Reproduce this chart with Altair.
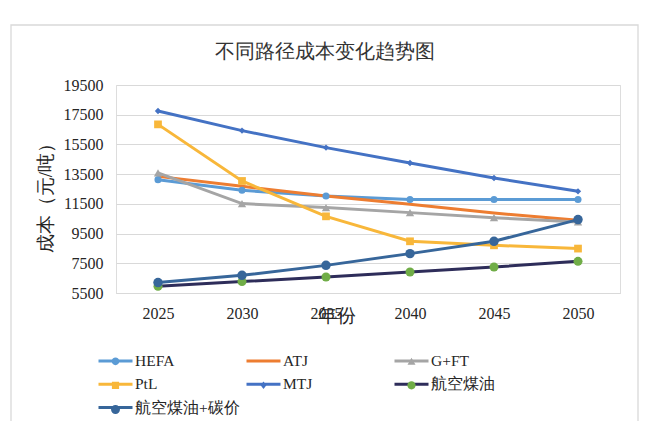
import altair as alt
import pandas as pd

years = [2025, 2030, 2035, 2040, 2045, 2050]
series = ["HEFA", "ATJ", "G+FT", "PtL", "MTJ", "航空煤油", "航空煤油+碳价"]
hefa = [13130, 12410, 12030, 11790, 11790, 11790]
atj = [13350, 12680, 12030, 11470, 10880, 10390]
gft = [13580, 11520, 11250, 10910, 10570, 10280]
ptl = [16850, 13040, 10660, 8980, 8710, 8490]
mtj = [17750, 16430, 15285, 14250, 13240, 12345]
jet = [5950, 6270, 6580, 6910, 7250, 7630]
jet_carbon = [6200, 6690, 7360, 8150, 8980, 10440]
y_ticks = [5500, 7500, 9500, 11500, 13500, 15500, 17500, 19500]

line_colors = ["#5B9BD5", "#ED7D31", "#A5A5A5", "#F8B73A", "#4472C4", "#2E2D5A", "#37669A"]
marker_colors = ["#5B9BD5", "#ED7D31", "#A5A5A5", "#F8B73A", "#4472C4", "#70AD47", "#37669A"]
marker_shapes = ["circle", "circle", "triangle-up", "square", "diamond", "circle", "circle"]
marker_sizes = [50, 0, 70, 60, 40, 81, 90]

values = [hefa, atj, gft, ptl, mtj, jet, jet_carbon]
rows = []
for i, (s, vals) in enumerate(zip(series, values)):
    for yr, v in zip(years, vals):
        rows.append({"series": s, "year": yr, "value": v,
                     "mshape": marker_shapes[i], "mcolor": marker_colors[i],
                     "msize": marker_sizes[i]})
df = pd.DataFrame(rows)

# legend symbol paths (units of sqrt(symbolSize)/2 px)
legend_line = "M-2.125,0L2.125,0"
def circ(r):
    return f"M{-r},0A{r},{r},0,1,0,{r},0A{r},{r},0,1,0,{-r},0Z"
legend_markers = [legend_line + m for m in [
    circ(0.47),
    "",
    "M0,-0.5L0.5,0.4L-0.5,0.4Z",
    "M-0.45,-0.45L0.45,-0.45L0.45,0.45L-0.45,0.45Z",
    "M0,-0.46L0.36,0L0,0.46L-0.36,0Z",
    circ(0.52),
    circ(0.56),
]]

SERIF = "Liberation Serif"
TXT = "#262626"
GRID = "#D9D9D9"

x_enc = alt.X(
    "year:O",
    scale=alt.Scale(type="point", padding=0.5),
    axis=alt.Axis(
        labelAngle=0, labelFont=SERIF, labelFontSize=16, labelColor=TXT,
        labelPadding=12, ticks=False, domainColor=GRID, domainWidth=1,
        title="年份", titleFont=SERIF, titleFontSize=19, titleFontWeight="normal",
        titleColor=TXT, titleX=220, titleY=22, titleBaseline="middle", titleAlign="center",
    ),
)
y_enc = alt.Y(
    "value:Q",
    scale=alt.Scale(domain=[5500, 19500], nice=False, zero=False),
    axis=alt.Axis(
        values=y_ticks, format="d", labelFont=SERIF, labelFontSize=16, labelColor=TXT,
        labelPadding=13, ticks=False, domain=False, gridColor=GRID, gridWidth=1,
        title="成本（元/吨）", titleFont=SERIF, titleFontSize=19, titleFontWeight="normal",
        titleColor=TXT, titleX=-71, titleY=108, titleAngle=270,
        titleBaseline="middle", titleAlign="center",
    ),
)

frame = alt.Chart(alt.Data(values=[{}])).mark_rect(
    fill="white", fillOpacity=0, stroke=GRID, strokeWidth=1.3
).encode(
    x=alt.value(-105), x2=alt.value(522), y=alt.value(-60), y2=alt.value(400)
)

common_leg = dict(
    orient="none", legendX=-10, legendY=266.5, columns=3, direction="horizontal",
    gridAlign="all", columnPadding=0, symbolSize=256,
    symbolStrokeWidth=3, labelOffset=10, labelFont=SERIF, labelFontSize=15.5,
    title=None, padding=0, symbolOpacity=1,
)
leg_lines = alt.Legend(symbolType=legend_line, labelColor=TXT, rowPadding=5.3, **common_leg)
leg_marks = alt.Legend(labelColor=TXT, labelOpacity=0, symbolStrokeColor="transparent",
                       rowPadding=3.3, **common_leg)

lines = alt.Chart(df).mark_line(strokeWidth=3).encode(
    x=x_enc, y=y_enc,
    color=alt.Color("series:N", scale=alt.Scale(domain=series, range=line_colors), legend=leg_lines),
)

points = alt.Chart(df).mark_point(filled=True, opacity=1, strokeWidth=0).encode(
    x=x_enc, y=y_enc,
    shape=alt.Shape("mshape:N", scale=None),
    fill=alt.Fill("mcolor:N", scale=None),
    size=alt.Size("msize:Q", scale=None),
)

legend_layer = alt.Chart(df).transform_filter("datum.year < 0").mark_point(
    filled=True, opacity=1
).encode(
    x=x_enc, y=y_enc,
    shape=alt.Shape("series:N", scale=alt.Scale(domain=series, range=legend_markers), legend=leg_marks),
    fill=alt.Fill("series:N", scale=alt.Scale(domain=series, range=marker_colors), legend=leg_marks),
)

chart = alt.layer(frame, lines, points, legend_layer).resolve_scale(
    shape="independent", fill="independent", color="independent"
).properties(
    width=504, height=208,
    padding={"left": 108, "top": 77, "right": 30, "bottom": 128},
    autosize=alt.AutoSizeParams(type="none"),
    title=alt.TitleParams(
        "不同路径成本变化趋势图", font=SERIF, fontSize=20, fontWeight="normal",
        color="#333333", anchor="middle", dx=-43, dy=37.5, offset=0,
    ),
).configure_view(stroke=None).configure(background="white")

chart.save("out.html", embed_options={"renderer": "svg", "actions": False})
